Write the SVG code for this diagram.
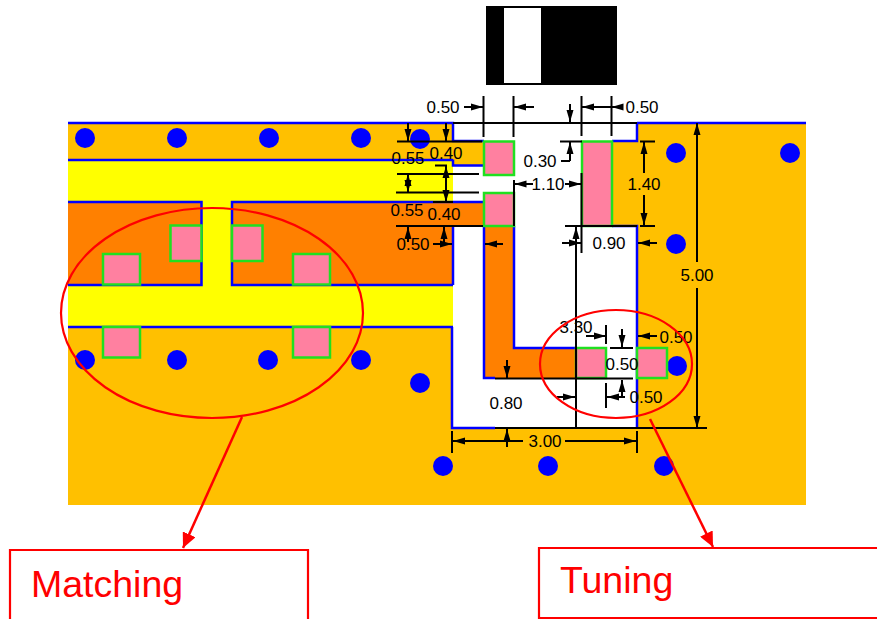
<svg xmlns="http://www.w3.org/2000/svg" width="877" height="619" viewBox="0 0 877 619">
<style>
.b{fill:none;stroke:#0000ff;stroke-width:2.500}
.p{fill:#ff80a0;stroke:#20e020;stroke-width:2.500}
.via{fill:#0000ff}
.d{fill:none;stroke:#000;stroke-width:2}
.a{marker-end:url(#ah)}
.t{font-family:"Liberation Sans",Arial,sans-serif;font-size:17px;fill:#000;text-anchor:middle}
.r{fill:none;stroke:#ff0000;stroke-width:2.200}
.l{font-family:"Liberation Sans",Arial,sans-serif;font-size:37.500px;fill:#ff0000}
</style>
<defs>
<marker id="ah" markerUnits="userSpaceOnUse" markerWidth="13" markerHeight="9" refX="12" refY="4.500" orient="auto"><path d="M0,1 L12,4.500 L0,8 Z" fill="#000"/></marker>
<marker id="rh" markerUnits="userSpaceOnUse" markerWidth="16" markerHeight="14" refX="15" refY="7" orient="auto"><path d="M0,0 L15,7 L0,14 Z" fill="#ff0000"/></marker>
</defs>
<rect width="877" height="619" fill="#fff"/>
<g id="board">
<rect x="68" y="123" width="738" height="382" fill="#ffc000"/>
<rect x="68" y="160" width="385" height="167" fill="#ffff00"/>
<path d="M68,202H202V285H68Z M232,202H453V285H232Z" fill="#ff8000"/>
<path d="M453,123H637V141H612V226H637V428H453Z" fill="#fff"/>
<path d="M453,141H484V165.500H453Z" fill="#ffc000"/>
<path d="M453,202H484V226H453Z M484,193H514V348H576V378H484Z" fill="#ff8000"/>
<path class="b" d="M68,123H453V141H484M453,159.500V165.500H484M68,160H453M68,202H201.500V285H68M453,285H232V202H484M68,327H453M453,327H452V428H495M453,226V285M484,226V378H495M514,226V348H576M637,123H806M637,123V141H612M612,226H637V428"/>
</g>
<g id="vias">
<circle class="via" cx="85" cy="138" r="10"/><circle class="via" cx="177" cy="138" r="10"/><circle class="via" cx="269" cy="138" r="10"/><circle class="via" cx="361" cy="138" r="10"/><circle class="via" cx="420" cy="139" r="10"/>
<circle class="via" cx="85" cy="360" r="10"/><circle class="via" cx="177" cy="360" r="10"/><circle class="via" cx="268" cy="360" r="10"/><circle class="via" cx="361" cy="360" r="10"/><circle class="via" cx="420" cy="383" r="10"/>
<circle class="via" cx="443" cy="466" r="10"/><circle class="via" cx="548" cy="466" r="10"/><circle class="via" cx="664" cy="466" r="10"/>
<circle class="via" cx="676" cy="153" r="10"/><circle class="via" cx="676" cy="244" r="10"/><circle class="via" cx="677" cy="366" r="10"/><circle class="via" cx="790" cy="153" r="10"/>
</g>
<g id="pads">
<rect class="p" x="170.500" y="225.500" width="31" height="35.500"/><rect class="p" x="103" y="254" width="37" height="30.500"/><rect class="p" x="232" y="225.500" width="30.500" height="35.500"/><rect class="p" x="293" y="254" width="37" height="30.500"/><rect class="p" x="103" y="327" width="37" height="30.500"/><rect class="p" x="293" y="327" width="37" height="30.500"/>
<rect class="p" x="484" y="141.500" width="30" height="33.500"/><rect class="p" x="484" y="193" width="30" height="33"/><rect class="p" x="582" y="141.500" width="30" height="84.500"/><rect class="p" x="576" y="348" width="30" height="30"/><rect class="p" x="637" y="348" width="30" height="30"/>
</g>
<g id="target">
<rect x="486" y="6" width="131" height="79" fill="#000"/><rect x="504" y="8" width="37" height="75" fill="#fff"/>
</g>
<g id="connectors">
<path class="d" d="M453,123H637M397,141.500H482M435,165.500H447M397,174H479M396,192.500H479M433,202H453M396,226H483M495,378.500H633M495,428H707M560,141.500H582M565,226H637M640,141.500H655M640,226H655M610,348H633"/>
<path class="d" d="M483.500,96V137M513.500,96V137M581.500,96V136M611.500,96V136M581.500,173V253M514,180V226M452,431V453M637,431V453M576,300V428M576,226V300M606,325V344M606,383V408"/>
<path class="d a" d="M464,107H483"/><path class="d a" d="M534,107H514"/><path class="d a" d="M611,107H582"/><path class="d a" d="M622,107H611.500"/>
<path class="d a" d="M570,104V122"/><path class="d a" d="M570,161V142"/><path class="d" d="M561,161H570"/>
<path class="d a" d="M533,184H514.500"/><path class="d a" d="M565,184H581"/>
<path class="d a" d="M408,123V141"/><path class="d a" d="M446,123V141"/>
<path class="d a" d="M446,182V166"/><path class="d a" d="M446,180V202"/>
<path class="d a" d="M408,184V174"/><path class="d a" d="M408,183V192"/>
<path class="d a" d="M408,242V227"/><path class="d a" d="M444,243V227"/><path class="d a" d="M433,244H452"/><path class="d a" d="M503,244H485"/>
<path class="d a" d="M576,250V227"/><path class="d a" d="M562,243H581"/><path class="d a" d="M657,243H638"/>
<path class="d a" d="M644,173V142"/><path class="d a" d="M644,195V225"/>
<path class="d a" d="M697,262V123"/><path class="d a" d="M697,288V428"/>
<path class="d a" d="M586,336H606"/><path class="d a" d="M657,336H638"/><path class="d a" d="M622,329V347"/>
<path class="d a" d="M622,397V380"/><path class="d a" d="M625,397H607"/>
<path class="d a" d="M507,360V378"/><path class="d a" d="M507,447V429"/><path class="d a" d="M557,397H575"/>
<path class="d a" d="M523,441H453"/><path class="d a" d="M565,441H636"/>
</g>
<g id="labels">
<text class="t" x="443" y="113">0.50</text><text class="t" x="642" y="113">0.50</text><text class="t" x="540" y="167">0.30</text><text class="t" x="548" y="190">1.10</text><text class="t" x="644" y="190">1.40</text>
<text class="t" x="408" y="164">0.55</text><text class="t" x="446" y="159">0.40</text><text class="t" x="407" y="216">0.55</text><text class="t" x="444" y="220">0.40</text><text class="t" x="413" y="250">0.50</text>
<text class="t" x="609" y="249">0.90</text><text class="t" x="697" y="281">5.00</text><text class="t" x="576" y="333">3.30</text><text class="t" x="676" y="343">0.50</text><text class="t" x="622" y="370">0.50</text><text class="t" x="646" y="403">0.50</text><text class="t" x="506" y="409">0.80</text><text class="t" x="545" y="447">3.00</text>
</g>
<g id="matching">
<ellipse class="r" cx="212" cy="313" rx="151" ry="105"/>
<path class="r" d="M242,417L183,548" style="marker-end:url(#rh);stroke-width:2.500"/>
<path class="r" d="M10,619V550H308V619"/>
<text class="l" x="31" y="597">Matching</text>
</g>
<g id="tuning">
<ellipse class="r" cx="616" cy="364" rx="76" ry="54"/>
<path class="r" d="M650,419L713,547" style="marker-end:url(#rh);stroke-width:2.500"/>
<path class="r" d="M877,548H539V618H877"/>
<text class="l" x="560" y="593">Tuning</text>
</g>
</svg>
